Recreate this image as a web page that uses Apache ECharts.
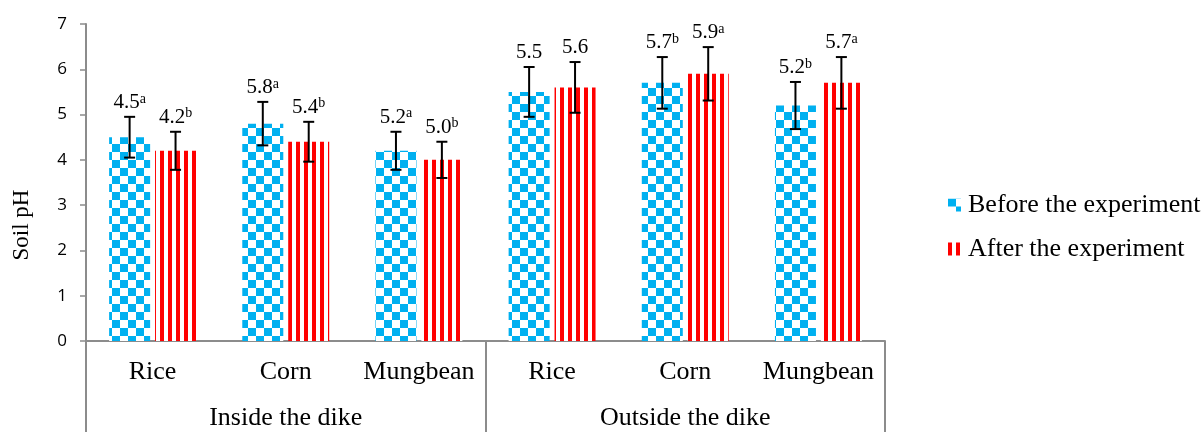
<!DOCTYPE html>
<html>
<head>
<meta charset="utf-8">
<script src="https://cdn.jsdelivr.net/npm/echarts@6/dist/echarts.min.js"></script>
<style>
  html, body { margin: 0; padding: 0; background: #fff; }
  #chart { width: 1203px; height: 432px; }
</style>
</head>
<body>
<div id="chart"></div>
<script>
// Soil pH before and after the experiment, by crop and location
const crops = ['Rice', 'Corn', 'Mungbean', 'Rice', 'Corn', 'Mungbean'];
const locations = ['Inside the dike', 'Outside the dike'];
const seriesNames = ['Before the experiment', 'After the experiment'];

const beforeValues = [4.5, 4.8, 4.2, 5.5, 5.7, 5.2];
const afterValues  = [4.2, 4.4, 4.0, 5.6, 5.9, 5.7];

const beforeErrors = [0.45, 0.48, 0.42, 0.55, 0.57, 0.52];
const afterErrors  = [0.42, 0.44, 0.40, 0.56, 0.59, 0.57];

// Value labels as printed above each bar, with significance letters
const beforeLabels  = ['4.5', '5.8', '5.2', '5.5', '5.7', '5.2'];
const beforeLetters = ['a', 'a', 'a', '', 'b', 'b'];
const afterLabels   = ['4.2', '5.4', '5.0', '5.6', '5.9', '5.7'];
const afterLetters  = ['b', 'b', 'b', '', 'a', 'a'];

const yTicks = { min: 0, max: 7, interval: 1 };

const BLUE = '#00B0F0';
const RED = '#FF0000';
const AXIS_GREY = '#8c8c8c';
const SERIF = '"Liberation Serif", "Times New Roman", serif';

// Checkerboard fill
function checkerPattern() {
  const c = document.createElement('canvas');
  c.width = 16; c.height = 16;
  const g = c.getContext('2d');
  g.fillStyle = '#ffffff'; g.fillRect(0, 0, 16, 16);
  g.fillStyle = BLUE;
  g.fillRect(0, 0, 8, 8);
  g.fillRect(8, 8, 8, 8);
  return { image: c, repeat: 'repeat' };
}
// Vertical stripe fill
function stripePattern() {
  const c = document.createElement('canvas');
  c.width = 8; c.height = 8;
  const g = c.getContext('2d');
  g.fillStyle = '#ffffff'; g.fillRect(0, 0, 8, 8);
  g.fillStyle = RED;
  g.fillRect(0, 0, 4, 8);
  return { image: c, repeat: 'repeat' };
}

const BAR_WIDTH = 41;
const BAR_GAP = 0.12;
const barShift = BAR_WIDTH * (1 + BAR_GAP) / 2;

function errorSeries(values, errors, labels, letters, side) {
  return {
    type: 'custom',
    name: side < 0 ? seriesNames[0] + ' error' : seriesNames[1] + ' error',
    xAxisIndex: 0,
    yAxisIndex: 0,
    z: 5,
    data: values.map((v, i) => [i, v]),
    encode: { x: 0, y: 1 },
    renderItem: function (params, api) {
      const i = params.dataIndex;
      const v = values[i];
      const e = errors[i];
      const top = api.coord([i, v + e]);
      const bot = api.coord([i, v - e]);
      const x = top[0] + side * barShift;
      const cap = 5.5;
      const stroke = { stroke: '#000', lineWidth: 2 };
      const sup = letters[i] ? '{s|' + letters[i] + '}' : '';
      return {
        type: 'group',
        children: [
          { type: 'line', shape: { x1: x, y1: top[1], x2: x, y2: bot[1] }, style: stroke },
          { type: 'line', shape: { x1: x - cap, y1: top[1], x2: x + cap, y2: top[1] }, style: stroke },
          { type: 'line', shape: { x1: x - cap, y1: bot[1], x2: x + cap, y2: bot[1] }, style: stroke },
          {
            type: 'text',
            x: x,
            y: top[1] - 4,
            style: {
              text: '{v|' + labels[i] + '}' + sup,
              align: 'center',
              verticalAlign: 'bottom',
              rich: {
                v: { fontFamily: SERIF, fontSize: 21, lineHeight: 21, fill: '#000' },
                s: { fontFamily: SERIF, fontSize: 14, lineHeight: 14, verticalAlign: 'top', fill: '#000' }
              }
            }
          }
        ]
      };
    }
  };
}

const chart = echarts.init(document.getElementById('chart'), null, { renderer: 'canvas' });

chart.setOption({
  backgroundColor: '#ffffff',
  animation: false,
  grid: { left: 86, right: 318, top: 24, bottom: 91, containLabel: false },
  legend: {
    data: seriesNames,
    orient: 'vertical',
    left: 943,
    top: 187,
    itemWidth: 13,
    itemHeight: 13,
    itemGap: 18,
    icon: 'rect',
    textStyle: { fontFamily: SERIF, fontSize: 26, lineHeight: 26, color: '#000', padding: [0, 0, 0, 2] }
  },
  xAxis: [
    {
      type: 'category',
      data: crops,
      position: 'bottom',
      axisLine: { show: true, lineStyle: { color: AXIS_GREY, width: 2 } },
      axisTick: { show: false },
      axisLabel: { margin: 18, interval: 0, fontFamily: SERIF, fontSize: 26, lineHeight: 26, color: '#000' },
      splitLine: { show: false }
    },
    {
      type: 'category',
      data: locations,
      position: 'bottom',
      gridIndex: 0,
      axisLine: { show: false },
      axisTick: { show: true, length: 92, interval: 0, lineStyle: { color: AXIS_GREY, width: 2 } },
      axisLabel: { margin: 64, interval: 0, fontFamily: SERIF, fontSize: 26, lineHeight: 26, color: '#000' },
      splitLine: { show: false }
    }
  ],
  yAxis: {
    type: 'value',
    min: yTicks.min,
    max: yTicks.max,
    interval: yTicks.interval,
    axisLine: { show: true, lineStyle: { color: AXIS_GREY, width: 2 } },
    axisTick: { show: true, length: 6, lineStyle: { color: AXIS_GREY, width: 1.5 } },
    axisLabel: { margin: 19, fontFamily: '"Open Sans", "Liberation Sans", sans-serif', fontSize: 17, color: '#000' },
    splitLine: { show: false }
  },
  graphic: [
    {
      type: 'text',
      x: 22,
      y: 225,
      rotation: Math.PI / 2,
      style: {
        text: 'Soil pH',
        fontFamily: SERIF,
        fontSize: 23,
        fill: '#000',
        align: 'center',
        verticalAlign: 'middle'
      }
    }
  ],
  series: [
    {
      name: seriesNames[0],
      type: 'bar',
      data: beforeValues,
      barWidth: BAR_WIDTH,
      barGap: (BAR_GAP * 100) + '%',
      itemStyle: { color: checkerPattern() }
    },
    {
      name: seriesNames[1],
      type: 'bar',
      data: afterValues,
      barWidth: BAR_WIDTH,
      barGap: (BAR_GAP * 100) + '%',
      itemStyle: { color: stripePattern() }
    },
    errorSeries(beforeValues, beforeErrors, beforeLabels, beforeLetters, -1),
    errorSeries(afterValues, afterErrors, afterLabels, afterLetters, 1)
  ]
});
</script>
</body>
</html>
